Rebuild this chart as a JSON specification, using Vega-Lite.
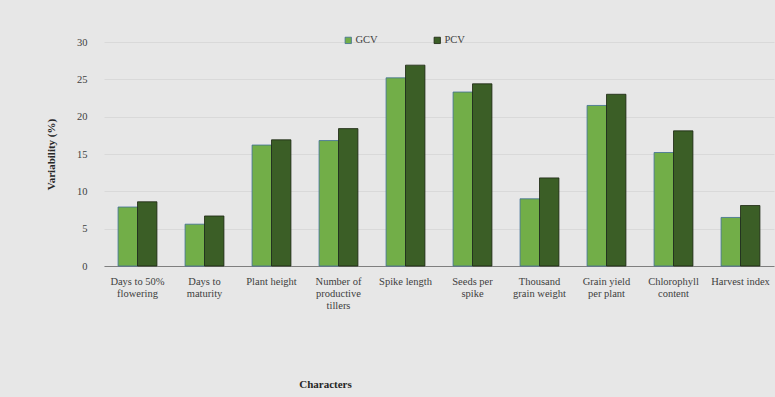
{
  "$schema": "https://vega.github.io/schema/vega-lite/v6.json",
  "autosize": "none",
  "width": 670,
  "height": 224,
  "padding": {"left": 104, "top": 42, "right": 1, "bottom": 131},
  "background": "#e7e7e7",
  "config": {
    "font": "Liberation Serif",
    "view": {"stroke": null},
    "axis": {"labelFont": "Liberation Serif", "titleFont": "Liberation Serif", "labelColor": "#404040", "titleColor": "#262626"}
  },
  "data": {
    "values": [
      {"character": "Days to 50% flowering", "series": "GCV", "value": 7.9},
      {"character": "Days to 50% flowering", "series": "PCV", "value": 8.6},
      {"character": "Days to maturity", "series": "GCV", "value": 5.6},
      {"character": "Days to maturity", "series": "PCV", "value": 6.7},
      {"character": "Plant height", "series": "GCV", "value": 16.2},
      {"character": "Plant height", "series": "PCV", "value": 16.9},
      {"character": "Number of productive tillers", "series": "GCV", "value": 16.8},
      {"character": "Number of productive tillers", "series": "PCV", "value": 18.4},
      {"character": "Spike length", "series": "GCV", "value": 25.2},
      {"character": "Spike length", "series": "PCV", "value": 26.9},
      {"character": "Seeds per spike", "series": "GCV", "value": 23.3},
      {"character": "Seeds per spike", "series": "PCV", "value": 24.4},
      {"character": "Thousand grain weight", "series": "GCV", "value": 9.0},
      {"character": "Thousand grain weight", "series": "PCV", "value": 11.8},
      {"character": "Grain yield per plant", "series": "GCV", "value": 21.5},
      {"character": "Grain yield per plant", "series": "PCV", "value": 23.0},
      {"character": "Chlorophyll content", "series": "GCV", "value": 15.2},
      {"character": "Chlorophyll content", "series": "PCV", "value": 18.1},
      {"character": "Harvest index", "series": "GCV", "value": 6.5},
      {"character": "Harvest index", "series": "PCV", "value": 8.1}
    ]
  },
  "mark": {"type": "bar", "strokeWidth": 0.8},
  "encoding": {
    "x": {
      "field": "character",
      "type": "nominal",
      "sort": null,
      "scale": {"paddingInner": 0.42, "paddingOuter": 0.21},
      "axis": {
        "title": "Characters",
        "titleFontSize": 11,
        "titleFontWeight": "bold",
        "titleX": 221,
        "titleY": 118,
        "titleBaseline": "middle",
        "labelAngle": 0,
        "labelFontSize": 10.5,
        "labelLineHeight": 12,
        "labelPadding": 10,
        "labelLimit": 200,
        "labelExpr": "{'Days to 50% flowering': ['Days to 50%', 'flowering'], 'Days to maturity': ['Days to', 'maturity'], 'Plant height': 'Plant height', 'Number of productive tillers': ['Number of', 'productive', 'tillers'], 'Spike length': 'Spike length', 'Seeds per spike': ['Seeds per', 'spike'], 'Thousand grain weight': ['Thousand', 'grain weight'], 'Grain yield per plant': ['Grain yield', 'per plant'], 'Chlorophyll content': ['Chlorophyll', 'content'], 'Harvest index': 'Harvest index'}[datum.value]",
        "ticks": false,
        "domainColor": "#7f7f7f",
        "domainWidth": 1.2
      }
    },
    "xOffset": {"field": "series", "type": "nominal", "scale": {"paddingInner": 0, "paddingOuter": 0}},
    "y": {
      "field": "value",
      "type": "quantitative",
      "scale": {"domain": [0, 30]},
      "axis": {
        "title": "Variability (%)",
        "titleFontSize": 11,
        "titleFontWeight": "bold",
        "titlePadding": 20,
        "values": [0, 5, 10, 15, 20, 25, 30],
        "labelFontSize": 10.5,
        "labelPadding": 17,
        "ticks": false,
        "domain": false,
        "gridColor": "#d9d9d9",
        "gridWidth": 1
      }
    },
    "color": {
      "field": "series",
      "type": "nominal",
      "scale": {"domain": ["GCV", "PCV"], "range": ["#72ae48", "#3b5e26"]},
      "legend": {
        "title": null,
        "orient": "none",
        "direction": "horizontal",
        "legendX": 239,
        "legendY": -7,
        "symbolType": "square",
        "symbolSize": 40,
        "symbolStrokeWidth": 0.8,
        "labelFontSize": 10.5,
        "labelColor": "#404040",
        "labelOffset": 2,
        "columnPadding": 54
      }
    },
    "stroke": {
      "field": "series",
      "type": "nominal",
      "scale": {"domain": ["GCV", "PCV"], "range": ["#3f6f96", "#1a2410"]},
      "legend": null
    }
  }
}
